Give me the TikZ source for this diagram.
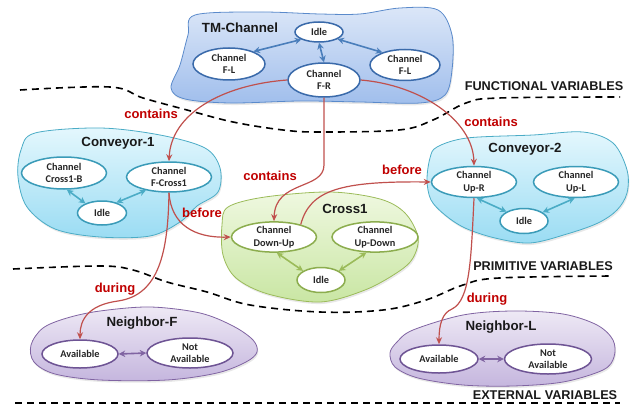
\documentclass[tikz,border=0pt]{standalone}
\usepackage{fontspec}
\setmainfont{Liberation Sans}
\newfontfamily\calfont{Carlito}
\usetikzlibrary{shapes.geometric,arrows.meta,shadows}
\definecolor{tmfillA}{HTML}{DCE7F8}
\definecolor{tmfillB}{HTML}{A0BEEC}
\definecolor{tmborder}{HTML}{5A8ACB}
\definecolor{tmell}{HTML}{3A6AAA}
\definecolor{tmarrow}{HTML}{4A7EBB}
\definecolor{cvfillA}{HTML}{E4F7FD}
\definecolor{cvfillB}{HTML}{9ADCF3}
\definecolor{cvborder}{HTML}{4BACC6}
\definecolor{cvell}{HTML}{3A9BB8}
\definecolor{crfillA}{HTML}{EFF8E0}
\definecolor{crfillB}{HTML}{C9E6A3}
\definecolor{crborder}{HTML}{9BBB59}
\definecolor{crell}{HTML}{8CAD4E}
\definecolor{nbfillA}{HTML}{EEE9F5}
\definecolor{nbfillB}{HTML}{C5B6DE}
\definecolor{nbborder}{HTML}{8064A2}
\definecolor{nbell}{HTML}{6E5494}
\definecolor{relline}{HTML}{C0504D}
\definecolor{reltext}{HTML}{C00000}
\tikzset{
  blob/.style={line width=0.8pt, drop shadow={opacity=0.18,shadow xshift=1pt,shadow yshift=-2pt}},
  tmblob/.style={blob, draw=tmborder, top color=tmfillA, bottom color=tmfillB},
  cvblob/.style={blob, draw=cvborder, top color=cvfillA, bottom color=cvfillB},
  crblob/.style={blob, draw=crborder, top color=crfillA, bottom color=crfillB},
  nbblob/.style={blob, draw=nbborder, top color=nbfillA, bottom color=nbfillB},
  state/.style={ellipse, fill=white, line width=1.5pt, inner sep=0pt, align=center,
     font=\calfont\bfseries\fontsize{10.3}{12.5}\selectfont, text=black!85},
  tmstate/.style={state, draw=tmell},
  cvstate/.style={state, draw=cvell},
  crstate/.style={state, draw=crell},
  nbstate/.style={state, draw=nbell},
  blobtitle/.style={font=\bfseries\fontsize{13.3}{15}\selectfont, text=black!90},
  twoway/.style={line width=1.6pt, {Stealth[length=6.5pt,width=6.5pt]}-{Stealth[length=6.5pt,width=6.5pt]}},
  rel/.style={draw=relline, line width=1.2pt, -{Stealth[length=7pt,width=6pt]}},
  rellabel/.style={text=reltext, font=\bfseries\fontsize{13}{15}\selectfont},
  divider/.style={draw=black, line width=1.6pt, dash pattern=on 7pt off 5pt},
  varlabel/.style={font=\bfseries\fontsize{12.7}{14}\selectfont, text=black!90}
}
\begin{document}
\begin{tikzpicture}[x=1pt,y=-1pt]
\useasboundingbox (0,0) rectangle (636,409);
% dividers
\draw[divider] plot[smooth, tension=0.6] coordinates {(20,90) (110,87) (143,98) (187,110) (233,122) (283,130) (320,132) (399,130) (433,120) (466,103) (499,98) (620,97)};
\draw[divider] plot[smooth, tension=0.6] coordinates {(13,269) (100,266) (133,270) (167,282) (207,292) (250,305) (320,312) (383,310) (426,300) (463,285) (499,278) (612,276)};
\draw[divider] (15,403) -- (620,403);
\node[varlabel] (vf) at (544,86) {FUNCTIONAL VARIABLES};
\node[varlabel] (vp) at (543,266) {PRIMITIVE VARIABLES};
\node[varlabel] (ve) at (545,395) {EXTERNAL VARIABLES};
% blobs
\path[tmblob] plot[smooth cycle, tension=0.55] coordinates {(195,15) (260,12) (320,14) (360,14) (400,8) (438,10) (452,35) (452,70) (445,95) (420,103) (360,102) (300,101) (230,103) (185,99) (171,88) (180,65) (188,35)};
\path[cvblob] plot[smooth cycle, tension=0.55] coordinates {(35,133) (100,128) (160,135) (205,148) (220,168) (218,192) (197,206) (180,222) (150,236) (100,237) (55,229) (27,207) (18,177) (21,150)};
\path[cvblob] plot[smooth cycle, tension=0.55] coordinates {(437,147) (467,138) (533,135) (583,132) (613,143) (627,170) (627,193) (617,210) (598,223) (567,234) (530,243) (495,238) (465,228) (445,215) (431,200) (427,180) (430,158)};
\path[crblob] plot[smooth cycle, tension=0.55] coordinates {(228,207) (265,197) (330,192) (380,199) (405,213) (418,237) (413,258) (398,272) (365,290) (320,302) (268,294) (236,278) (223,255) (222,225)};
\path[nbblob] plot[smooth cycle, tension=0.55] coordinates {(43,328) (67,318) (100,311) (150,307) (200,313) (233,326) (253,340) (257,352) (246,362) (217,373) (167,380) (100,380) (55,374) (34,362) (31,345)};
\path[nbblob] plot[smooth cycle, tension=0.55] coordinates {(397,342) (413,330) (463,315) (513,311) (563,314) (597,325) (613,340) (614,357) (603,370) (563,382) (513,386) (463,385) (418,378) (395,367) (390,353)};
% titles
\node[blobtitle] (ttm) at (240,28) {TM-Channel};
\node[blobtitle] (tc1) at (118,143) {Conveyor-1};
\node[blobtitle] (tc2) at (525,149) {Conveyor-2};
\node[blobtitle] (tcr) at (345,209) {Cross1};
\node[blobtitle] (tnf) at (142,323) {Neighbor-F};
\node[blobtitle] (tnl) at (501,327) {Neighbor-L};
% states
\node[tmstate, minimum width=48pt, minimum height=20pt] (I0) at (319,32) {Idle};
\node[tmstate, minimum width=72pt, minimum height=32pt] (FL1) at (229,64) {Channel\\F-L};
\node[tmstate, minimum width=72pt, minimum height=34pt] (FR) at (324,80) {Channel\\F-R};
\node[tmstate, minimum width=70pt, minimum height=31pt] (FL2) at (405,65) {Channel\\F-L};
\node[cvstate, minimum width=85pt, minimum height=32pt] (CB) at (64,173) {Channel\\Cross1-B};
\node[cvstate, minimum width=85pt, minimum height=30pt] (FC) at (169,177) {Channel\\F-Cross1};
\node[cvstate, minimum width=49pt, minimum height=24pt] (I1) at (102,213) {Idle};
\node[cvstate, minimum width=85pt, minimum height=31pt] (UR) at (474,182) {Channel\\Up-R};
\node[cvstate, minimum width=85pt, minimum height=31pt] (UL) at (576,182) {Channel\\Up-L};
\node[cvstate, minimum width=48pt, minimum height=25pt] (I2) at (524,221) {Idle};
\node[crstate, minimum width=85pt, minimum height=30pt] (DU) at (274,237) {Channel\\Down-Up};
\node[crstate, minimum width=86pt, minimum height=30pt] (UD) at (375,237) {Channel\\Up-Down};
\node[crstate, minimum width=48pt, minimum height=25pt] (I3) at (321,280) {Idle};
\node[nbstate, minimum width=76pt, minimum height=28pt] (AF) at (80,354) {Available};
\node[nbstate, minimum width=86pt, minimum height=30pt] (NF) at (190,353) {Not\\Available};
\node[nbstate, minimum width=78pt, minimum height=28pt] (AL) at (439,359) {Available};
\node[nbstate, minimum width=87pt, minimum height=30pt] (NL) at (548,359) {Not\\Available};
% internal transitions
\draw[twoway, draw=tmarrow] (FL1.27) -- (I0.-157);
\draw[twoway, draw=tmarrow] (I0.south) -- (FR.north);
\draw[twoway, draw=tmarrow] (I0.-21) -- (FL2.151);
\draw[twoway, draw=cvborder] (CB.-80) -- (I1.150);
\draw[twoway, draw=cvborder] (I1.36) -- (FC.-150);
\draw[twoway, draw=cvborder] (UR.-80) -- (I2.152);
\draw[twoway, draw=cvborder] (I2.25) -- (UL.-95);
\draw[twoway, draw=crborder] (DU.-80) -- (I3.153);
\draw[twoway, draw=crborder] (I3.27) -- (UD.-119);
\draw[twoway, draw=nbborder] (AF.east) -- (NF.west);
\draw[twoway, draw=nbborder] (AL.east) -- (NL.west);
% relations
\draw[rel] (FR.west) .. controls (220,85) and (171,115) .. (FC.north);
\draw[rel] (FR.east) .. controls (420,85) and (473,120) .. (UR.north);
\draw[rel] (FR.south) -- (324,165) .. controls (324,190) and (275,180) .. (DU.north);
\draw[rel] (FC.south) .. controls (171,225) and (195,238) .. (DU.west);
\draw[rel] (DU.25) .. controls (310,190) and (340,181) .. (UR.west);
\draw[rel] (FC.south) .. controls (168,250) and (160,295) .. (118,301) .. controls (88,305) and (80,320) .. (AF.north);
\draw[rel] (UR.south) .. controls (471,260) and (470,300) .. (452,309) .. controls (442,313) and (439,325) .. (AL.north);
\node[rellabel] (lc1) at (151,114) {contains};
\node[rellabel] (lc2) at (491,122) {contains};
\node[rellabel] (lc3) at (270,176) {contains};
\node[rellabel] (lb1) at (202,213) {before};
\node[rellabel] (lb2) at (402,170) {before};
\node[rellabel] (ld1) at (115,289) {during};
\node[rellabel] (ld2) at (487,299) {during};
\end{tikzpicture}
\end{document}
